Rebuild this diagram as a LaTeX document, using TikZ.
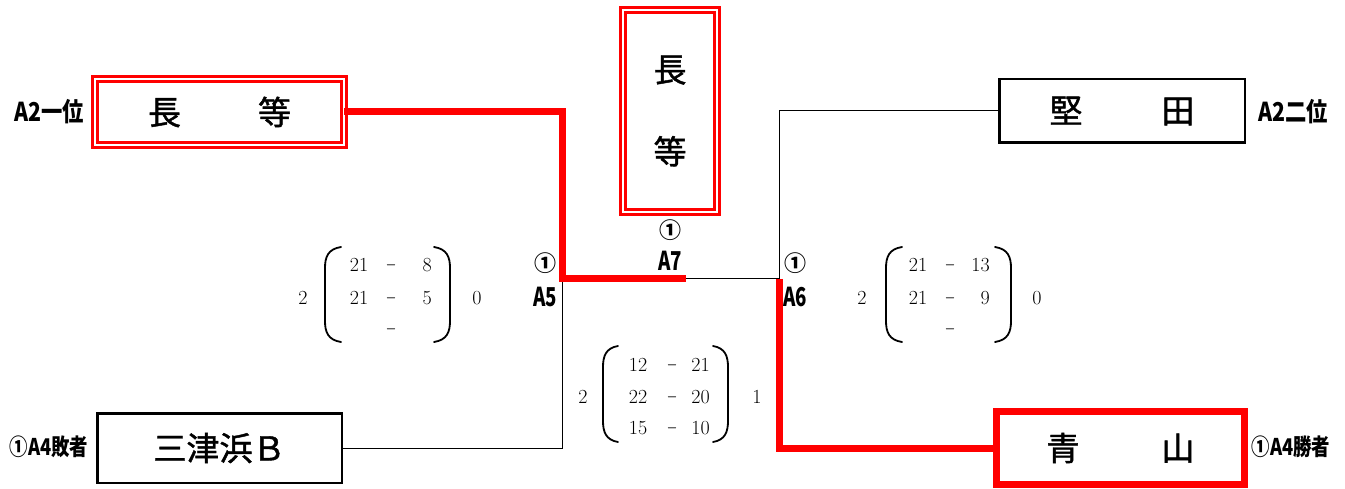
\documentclass[tikz,border=0pt]{standalone}
\usepackage{fontspec}
\usepackage{graphicx}
\newfontfamily\jp{Noto Sans CJK JP}
\newfontfamily\jpn{Noto Sans CJK JP}[FakeBold=1.3]
\newcommand{\sdash}{\scalebox{0.65}[1]{$-$}}
\begin{document}
\begin{tikzpicture}[x=1pt,y=-1pt,
  namefont/.style={font=\jpn\fontsize{33}{40}\selectfont},
  redbox/.style={draw=red, line width=3pt, double=white, double distance=2.5pt, inner sep=0pt, outer sep=0pt, namefont},
  blackbox/.style={draw=black, line width=2.5pt, inner sep=0pt, outer sep=0pt, namefont},
  redfat/.style={draw=red, line width=7pt, inner sep=0pt, outer sep=0pt, namefont},
  lab/.style={inner sep=0pt, font=\jp\bfseries\fontsize{26}{30}\selectfont},
  labs/.style={inner sep=0pt, font=\jp\bfseries\fontsize{23}{27}\selectfont},
  circ/.style={inner sep=0pt, font=\jp\bfseries\fontsize{22}{26}\selectfont},
  sc/.style={inner sep=0pt, font=\fontsize{20}{24}\selectfont},
  thin/.style={draw=black, line width=1pt},
  redline/.style={draw=red, line width=7pt},
  paren/.style={draw=black, line width=1.8pt, line cap=round}]
\useasboundingbox (0,0) rectangle (1345,489);
% boxes
\node[redbox, minimum width=249pt, minimum height=66pt] (tl) at (219.5,112) {長\hspace{77pt}等};
\node[redbox, minimum width=94pt, minimum height=202pt, align=center] (ctr) at (670,111) {長\\[42pt]等};
\node[blackbox, minimum width=245.5pt, minimum height=63.5pt] (tr) at (1122,111) {堅\hspace{79pt}田};
\node[blackbox, minimum width=244.5pt, minimum height=69.5pt] (bl) at (219.5,448) {三津浜Ｂ};
\node[redfat, minimum width=248pt, minimum height=73pt] (br) at (1120.5,448) {青\hspace{82pt}山};
% side labels
\node[lab] (l1) at (49,112) {\scalebox{0.82}[1]{A2一位}};
\node[lab] (l2) at (1293,112) {\scalebox{0.82}[1]{A2二位}};
\node[labs] (l3) at (49,447) {\scalebox{0.8}[1]{①A4敗者}};
\node[labs] (l4) at (1291,447) {\scalebox{0.8}[1]{①A4勝者}};
% match labels
\node[circ] (c5) at (545,263) {①};
\node[lab] (m5) at (545,297) {\scalebox{0.72}[1]{A5}};
\node[circ] (c7) at (670,230) {①};
\node[lab] (m7) at (670,261) {\scalebox{0.72}[1]{A7}};
\node[circ] (c6) at (795,263) {①};
\node[lab] (m6) at (795,297) {\scalebox{0.72}[1]{A6}};
% junctions
\coordinate (j5) at (562,279);
\coordinate (a7) at (686,279);
\coordinate (j6) at (779,279);
% connectors
\draw[thin] (bl.east) -| (j5);
\draw[thin] (a7) -- (j6) |- (tr.west);
\draw[redline] (tl.east) -| (j5) -- (a7);
\draw[redline] (j6) |- (br.west);
% left scores
\node[sc] (s1) at (303,298) {2};
\node[sc] (s1a1) at (359,265) {21};
\node[sc] (s1d1) at (391,265) {\sdash};
\node[sc, anchor=east] (s1b1) at (432,265) {8};
\node[sc] (s1a2) at (359,298) {21};
\node[sc] (s1d2) at (391,298) {\sdash};
\node[sc, anchor=east] (s1b2) at (432,298) {5};
\node[sc] (s1d3) at (391,329) {\sdash};
\node[sc] (s1r) at (477,298) {0};
\draw[paren] (341,247) .. controls (328,249) and (325,257) .. (325,268) -- (325,321) .. controls (325,332) and (328,340) .. (341,342);
\draw[paren] (434,247) .. controls (447,249) and (450,257) .. (450,268) -- (450,321) .. controls (450,332) and (447,340) .. (434,342);
% middle scores
\node[sc] (s2) at (583,397) {2};
\node[sc] (s2a1) at (638,365) {12};
\node[sc] (s2d1) at (672,365) {\sdash};
\node[sc, anchor=east] (s2b1) at (710,365) {21};
\node[sc] (s2a2) at (638,397) {22};
\node[sc] (s2d2) at (672,397) {\sdash};
\node[sc, anchor=east] (s2b2) at (710,397) {20};
\node[sc] (s2a3) at (638,428) {15};
\node[sc] (s2d3) at (672,428) {\sdash};
\node[sc, anchor=east] (s2b3) at (710,428) {10};
\node[sc] (s2r) at (757,397) {1};
\draw[paren] (618,346) .. controls (606,348) and (603,356) .. (603,367) -- (603,421) .. controls (603,432) and (606,440) .. (618,442);
\draw[paren] (713,346) .. controls (725,348) and (728,356) .. (728,367) -- (728,421) .. controls (728,432) and (725,440) .. (713,442);
% right scores
\node[sc] (s3) at (862,298) {2};
\node[sc] (s3a1) at (918,265) {21};
\node[sc] (s3d1) at (950,265) {\sdash};
\node[sc, anchor=east] (s3b1) at (990,265) {13};
\node[sc] (s3a2) at (918,298) {21};
\node[sc] (s3d2) at (950,298) {\sdash};
\node[sc, anchor=east] (s3b2) at (990,298) {9};
\node[sc] (s3d3) at (950,329) {\sdash};
\node[sc] (s3r) at (1037,298) {0};
\draw[paren] (902,247) .. controls (889,249) and (886,257) .. (886,268) -- (886,321) .. controls (886,332) and (889,340) .. (902,342);
\draw[paren] (995,247) .. controls (1008,249) and (1011,257) .. (1011,268) -- (1011,321) .. controls (1011,332) and (1008,340) .. (995,342);
\end{tikzpicture}
\end{document}
